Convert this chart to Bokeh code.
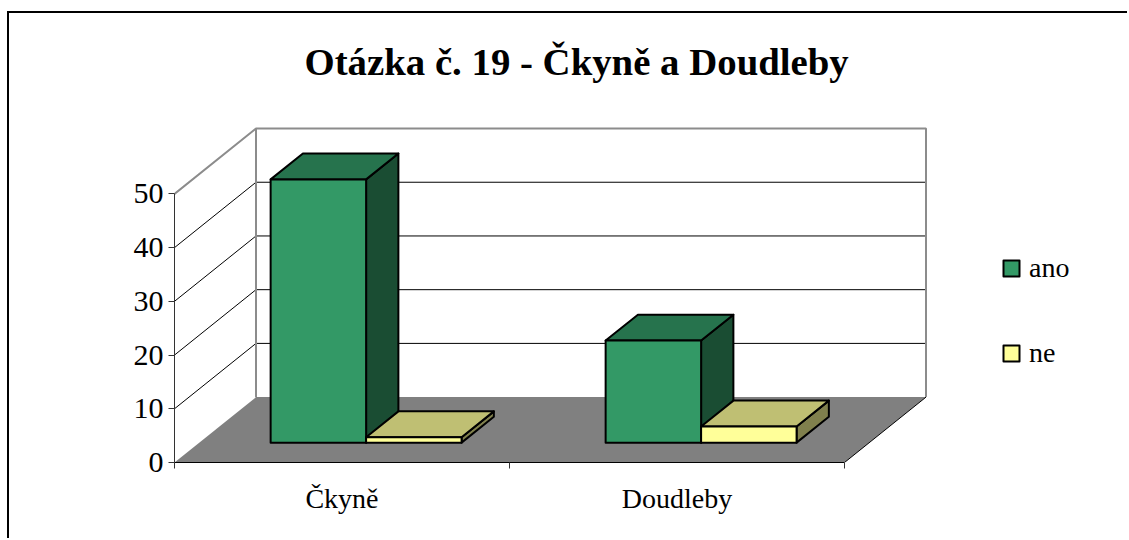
from bokeh.embed import file_html
from bokeh.resources import INLINE
from bokeh.plotting import figure
from bokeh.models import (Range1d, LinearAxis, FixedTicker, Legend, LegendItem,
                          Title)

categories = ["Čkyně", "Doudleby"]
ano = [49, 19]
ne = [1, 3]
y_ticks = [0, 10, 20, 30, 40, 50]
grid_values = [10, 20, 30, 40]
title_text = "Otázka č. 19 - Čkyně a Doudleby"
FONT = "Liberation Serif"

# 3D projection of the chart box, in axis units (category, value)
DX, DY = 0.2433, 12.17
D_FRONT, D_BACK = 0.304, 0.70
GAP, BAR_W = 0.213, 0.285
X_MAX, Y_MAX = 2.0, 50.0


def pr(x, v, d):
    return x + DX * d, v + DY * d


def poly(points):
    return [pr(*pt)[0] for pt in points], [pr(*pt)[1] for pt in points]


W, H = 1120, 527
F_L, F_T, F_B = 165, 77, 449
PX_PER_CAT, PX_PER_VAL = 335.0, 5.372
p = figure(width=W, height=H, output_backend="svg", toolbar_location=None,
           x_range=Range1d(0, (W - F_L) / PX_PER_CAT),
           y_range=Range1d(0, (F_B - F_T) / PX_PER_VAL),
           x_axis_type=None, y_axis_type=None,
           min_border_left=F_L, min_border_right=0,
           min_border_top=F_T, min_border_bottom=H - F_B,
           outline_line_color=None, background_fill_color="white",
           border_fill_color="white", margin=(11, 0, 0, 7),
           styles={"border-left": "2px solid black", "border-top": "2px solid black"})
p.xgrid.visible = False
p.ygrid.visible = False

# floor
fx, fy = poly([(0, 0, 0), (X_MAX, 0, 0), (X_MAX, 0, 1), (0, 0, 1)])
p.patch(fx, fy, fill_color="#808080", line_color=None)

# gridlines on side wall and back wall
for g in grid_values:
    gx, gy = poly([(0, g, 0), (0, g, 1), (X_MAX, g, 1)])
    p.line(gx, gy, line_color="black", line_width=1)

# wall edges
wx, wy = poly([(0, Y_MAX, 0), (0, Y_MAX, 1), (X_MAX, Y_MAX, 1), (X_MAX, 0, 1)])
p.line(wx, wy, line_color="#8c8c8c", line_width=2)
wx, wy = poly([(0, Y_MAX, 1), (0, 0, 1)])
p.line(wx, wy, line_color="#8c8c8c", line_width=2)
wx, wy = poly([(X_MAX, 0, 0), (X_MAX, 0, 1)])
p.line(wx, wy, line_color="black", line_width=1)


def bar(x0, x1, v, front, top, side):
    d0, d1 = D_FRONT, D_BACK
    sx, sy = poly([(x1, 0, d0), (x1, 0, d1), (x1, v, d1), (x1, v, d0)])
    tx, ty = poly([(x0, v, d0), (x1, v, d0), (x1, v, d1), (x0, v, d1)])
    ax, ay = poly([(x0, 0, d0), (x1, 0, d0), (x1, v, d0), (x0, v, d0)])
    kw = dict(line_color="black", line_width=2, line_join="round")
    p.patch(sx, sy, fill_color=side, **kw)
    p.patch(tx, ty, fill_color=top, **kw)
    return p.patch(ax, ay, fill_color=front, **kw)


ano_r = ne_r = None
for i in range(len(categories)):
    x0 = i + GAP
    ano_r = bar(x0, x0 + BAR_W, ano[i], "#339966", "#26734D", "#1A4D33")
    ne_r = bar(x0 + BAR_W, x0 + 2 * BAR_W, ne[i], "#FFFF99", "#BFBF73", "#80804D")

# axes
yax = LinearAxis(ticker=FixedTicker(ticks=y_ticks), bounds=(0, Y_MAX),
                 axis_line_color="#333333", axis_line_width=1,
                 major_tick_line_color="#333333", major_tick_in=0, major_tick_out=6,
                 minor_tick_line_color=None, major_label_standoff=5,
                 major_label_text_font=FONT, major_label_text_font_size="30px",
                 major_label_text_color="black")
p.add_layout(yax, "left")

xax = LinearAxis(ticker=FixedTicker(ticks=[0.5, 1.5], minor_ticks=[0, 1, 2]),
                 bounds=(0, X_MAX),
                 major_label_overrides={0.5: categories[0], 1.5: categories[1]},
                 axis_line_color="black", axis_line_width=1,
                 major_tick_line_color=None, major_tick_in=0, major_tick_out=0,
                 minor_tick_line_color="#333333", minor_tick_in=0, minor_tick_out=6,
                 major_label_standoff=14,
                 major_label_text_font=FONT, major_label_text_font_size="28px",
                 major_label_text_color="black")
p.add_layout(xax, "below")

# title
t = Title(text=title_text, align="left", offset=130, standoff=16,
          text_font=FONT, text_font_size="38.8px", text_font_style="bold",
          text_color="black")
p.add_layout(t, "above")

# legend
legend = Legend(items=[LegendItem(label="ano", renderers=[ano_r]),
                       LegendItem(label="ne", renderers=[ne_r])],
                location=(827, 93), orientation="vertical",
                border_line_color=None, background_fill_alpha=0,
                padding=0, margin=0, spacing=53,
                glyph_width=20, glyph_height=20, label_standoff=8,
                label_text_font=FONT, label_text_font_size="28px",
                label_text_color="black")
p.add_layout(legend, "center")

open("out.html", "w").write(file_html(p, INLINE))
